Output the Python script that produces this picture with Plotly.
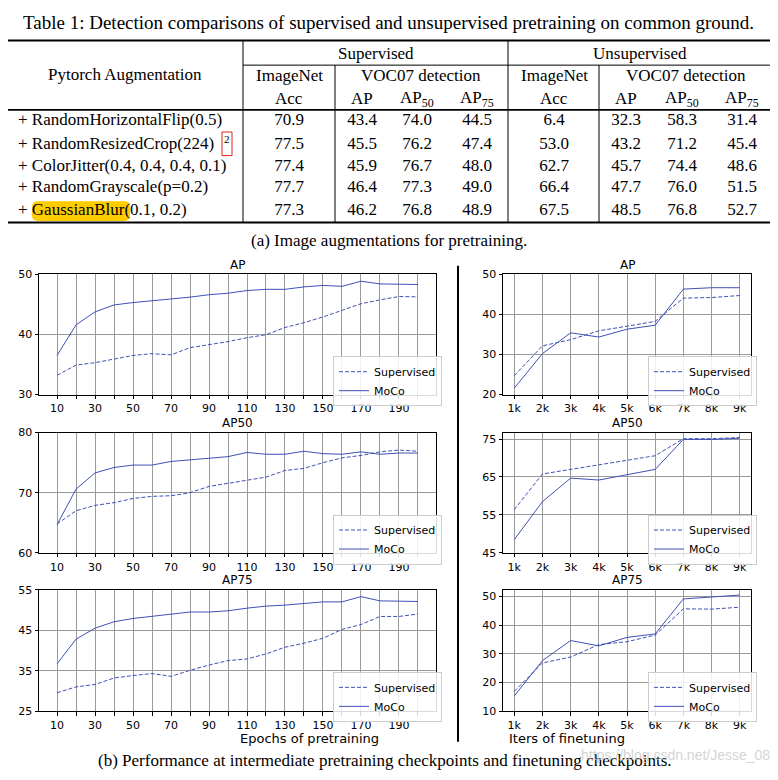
import plotly.graph_objects as go

# ---------------- data ----------------
epochs = [10, 20, 30, 40, 50, 60, 70, 80, 90, 100, 110, 120, 130, 140, 150, 160, 170, 180, 190, 200]
epoch_labels = ["10", "", "30", "", "50", "", "70", "", "90", "", "110", "", "130", "", "150", "", "170", "", "190", ""]
iters = ["1k", "2k", "3k", "4k", "5k", "6k", "7k", "8k", "9k"]

ep_ap_sup = [33.2, 34.9, 35.3, 35.9, 36.5, 36.8, 36.6, 37.8, 38.3, 38.8, 39.45, 39.95, 41.15, 41.95, 42.9, 44.0, 45.1, 45.75, 46.3, 46.25]
ep_ap_moco = [36.5, 41.6, 43.75, 44.9, 45.3, 45.65, 45.9, 46.2, 46.6, 46.85, 47.3, 47.5, 47.5, 47.9, 48.15, 48.0, 48.85, 48.4, 48.4, 48.3]
ep_ap50_sup = [64.8, 67.0, 67.9, 68.35, 69.05, 69.4, 69.5, 70.0, 71.05, 71.55, 72.05, 72.6, 73.7, 74.05, 75.0, 75.8, 76.2, 76.8, 77.1, 76.9]
ep_ap50_moco = [64.7, 70.6, 73.3, 74.2, 74.6, 74.6, 75.2, 75.5, 75.8, 76.0, 76.7, 76.4, 76.4, 76.9, 76.5, 76.4, 76.8, 76.4, 76.6, 76.6]
ep_ap75_sup = [29.55, 31.0, 31.6, 33.2, 33.8, 34.3, 33.6, 35.1, 36.4, 37.5, 37.9, 39.15, 40.8, 41.8, 43.0, 45.2, 46.4, 48.4, 48.4, 49.0]
ep_ap75_moco = [36.7, 42.8, 45.5, 47.1, 47.9, 48.45, 48.9, 49.5, 49.5, 49.8, 50.45, 50.95, 51.2, 51.6, 52.0, 52.0, 53.3, 52.25, 52.1, 52.1]

it_ap_sup = [24.7, 32.15, 33.7, 35.9, 37.05, 38.25, 44.05, 44.2, 44.7]
it_ap_moco = [21.6, 30.2, 35.4, 34.35, 36.3, 37.3, 46.3, 46.65, 46.65]
it_ap50_sup = [56.4, 65.8, 67.0, 68.2, 69.3, 70.6, 75.1, 75.1, 75.4]
it_ap50_moco = [48.5, 58.5, 64.7, 64.2, 65.6, 67.0, 74.9, 74.9, 75.2]
it_ap75_sup = [16.9, 26.8, 28.85, 33.2, 34.2, 36.5, 45.65, 45.55, 46.2]
it_ap75_moco = [15.3, 27.6, 34.6, 32.75, 35.7, 36.9, 49.1, 49.9, 50.45]

augmentations = ["+ RandomHorizontalFlip(0.5)", "+ RandomResizedCrop(224)",
                 "+ ColorJitter(0.4, 0.4, 0.4, 0.1)", "+ RandomGrayscale(p=0.2)",
                 "+ GaussianBlur(0.1, 0.2)"]
sup_acc = [70.9, 77.5, 77.4, 77.7, 77.3]
sup_ap = [43.4, 45.5, 45.9, 46.4, 46.2]
sup_ap50 = [74.0, 76.2, 76.7, 77.3, 76.8]
sup_ap75 = [44.5, 47.4, 48.0, 49.0, 48.9]
unsup_acc = [6.4, 53.0, 62.7, 66.4, 67.5]
unsup_ap = [32.3, 43.2, 45.7, 47.7, 48.5]
unsup_ap50 = [58.3, 71.2, 74.4, 76.0, 76.8]
unsup_ap75 = [31.4, 45.4, 48.6, 51.5, 52.7]

# ---------------- layout helpers ----------------
W, H = 778, 780
OFF = 8  # page body margin offset of the rendered figure
def px(x):
    return (x - OFF) / W
def py(y):
    return 1 - (y - OFF) / H

LINE = "#3f51b5"
GRID = "#9a9a9a"
SANS = "DejaVu Sans"
SERIF = "Liberation Serif"

fig = go.Figure()

charts = [
    (1, epochs, ep_ap_sup, ep_ap_moco, (39, 436), (272.7, 395), [30, 50], [30, 40, 50], "AP", 356, "ep"),
    (2, iters, it_ap_sup, it_ap_moco, (503, 751), (272.7, 395), [20, 50], [20, 30, 40, 50], "AP", 356, "it"),
    (3, epochs, ep_ap50_sup, ep_ap50_moco, (39, 436), (433.7, 556), [60, 80], [60, 70, 80], "AP50", 517, "ep"),
    (4, iters, it_ap50_sup, it_ap50_moco, (503, 751), (433.7, 556), [45, 76.7], [45, 55, 65, 75], "AP50", 517, "it"),
    (5, epochs, ep_ap75_sup, ep_ap75_moco, (39, 436), (593.5, 717), [25, 55], [25, 35, 45, 55], "AP75", 677, "ep"),
    (6, iters, it_ap75_sup, it_ap75_moco, (503, 751), (593.5, 717), [10, 52.3], [10, 20, 30, 40, 50], "AP75", 677, "it"),
]

annotations = []
layout_axes = {}
for idx, xs, sup, moco, (xl, xr), (yt, yb), yr, yt_vals, title, legtop, kind in charts:
    xn = "x" if idx == 1 else f"x{idx}"
    yn = "y" if idx == 1 else f"y{idx}"
    lg = "legend" if idx == 1 else f"legend{idx}"
    fig.add_trace(go.Scatter(x=xs, y=sup, mode="lines", name="Supervised",
                             line=dict(color=LINE, width=1, dash="4px,2px"),
                             xaxis=xn, yaxis=yn, legend=lg, hoverinfo="skip"))
    fig.add_trace(go.Scatter(x=xs, y=moco, mode="lines", name="MoCo",
                             line=dict(color=LINE, width=1),
                             xaxis=xn, yaxis=yn, legend=lg, hoverinfo="skip"))
    common = dict(showgrid=True, gridcolor=GRID, gridwidth=1, showline=True,
                  linecolor="black", linewidth=1, mirror=True, ticks="outside",
                  ticklen=3.5, tickcolor="black", tickwidth=1, zeroline=False,
                  tickfont=dict(family=SANS, size=11, color="black"))
    if kind == "ep":
        xa = dict(domain=[px(xl), px(xr)], range=[0.5, 209.5], tickmode="array",
                  tickvals=epochs, ticktext=epoch_labels, **common)
    else:
        xa = dict(domain=[px(xl), px(xr)], range=[-0.4, 8.4], type="category",
                  **common)
    xa["anchor"] = yn
    ya = dict(domain=[py(yb), py(yt)], range=yr, tickmode="array", tickvals=yt_vals,
              anchor=xn, **common)
    layout_axes["xaxis" if idx == 1 else f"xaxis{idx}"] = xa
    layout_axes["yaxis" if idx == 1 else f"yaxis{idx}"] = ya
    legx = 333 if kind == "ep" else 648
    layout_axes[lg] = dict(x=px(legx), y=py(legtop), xanchor="left", yanchor="top",
                           bgcolor="rgba(255,255,255,0.85)", bordercolor="#cccccc",
                           borderwidth=1, font=dict(family=SANS, size=11, color="black"),
                           itemwidth=30, tracegroupgap=0)
    annotations.append(dict(x=px((xl + xr) / 2), y=py(yt - 9.5), xref="paper", yref="paper",
                            text=title, showarrow=False, xanchor="center", yanchor="middle",
                            font=dict(family=SANS, size=12, color="black")))

annotations.append(dict(x=px(238), y=py(745), xref="paper", yref="paper",
                        text="Epochs of pretraining", showarrow=False, yanchor="middle",
                        font=dict(family=SANS, size=13, color="black")))
annotations.append(dict(x=px(627), y=py(745), xref="paper", yref="paper",
                        text="Iters of finetuning", showarrow=False, yanchor="middle",
                        font=dict(family=SANS, size=13, color="black")))
annotations.append(dict(x=px(385), y=py(767), xref="paper", yref="paper", yanchor="middle",
                        text="(b) Performance at intermediate pretraining checkpoints and finetuning checkpoints.",
                        showarrow=False, font=dict(family=SERIF, size=17, color="black")))
annotations.append(dict(x=px(772), y=py(762), xref="paper", yref="paper", xanchor="right",
                        yanchor="middle", text="https://blog.csdn.net/Jesse_08", showarrow=False,
                        font=dict(family="Liberation Sans", size=14, color="rgba(200,200,200,0.8)")))
annotations.append(dict(x=px(389), y=py(238), xref="paper", yref="paper", yanchor="middle",
                        text="(a) Image augmentations for pretraining.",
                        showarrow=False, font=dict(family=SERIF, size=17, color="black")))

# ---------------- table (axis 7 in screen-pixel units) ----------------
layout_axes["xaxis7"] = dict(domain=[0, 1], range=[OFF, W + OFF], visible=False, anchor="y7", fixedrange=True)
layout_axes["yaxis7"] = dict(domain=[py(228), 1], range=[228, OFF], visible=False, anchor="x7", fixedrange=True)

row_y = [117, 141, 163, 185, 208]
col_x = [289, 362, 417, 477, 554, 626, 682, 742]
cols = [sup_acc, sup_ap, sup_ap50, sup_ap75, unsup_acc, unsup_ap, unsup_ap50, unsup_ap75]
tx, ty, tt = [], [], []
for cx, col in zip(col_x, cols):
    for ry, v in zip(row_y, col):
        tx.append(cx); ty.append(ry); tt.append(f"{v:.1f}")
fig.add_trace(go.Scatter(x=tx, y=ty, text=tt, mode="text", textposition="middle center",
                         textfont=dict(family=SERIF, size=17, color="black"),
                         xaxis="x7", yaxis="y7", showlegend=False, hoverinfo="skip"))
fig.add_trace(go.Scatter(x=[18] * len(augmentations), y=row_y, text=augmentations, mode="text",
                         textposition="middle right",
                         textfont=dict(family=SERIF, size=17, color="black"),
                         xaxis="x7", yaxis="y7", showlegend=False, hoverinfo="skip"))

def tann(x, y, text, size=17, xanchor="center", family=SERIF):
    annotations.append(dict(x=x, y=y, xref="x7", yref="y7", text=text, showarrow=False,
                            xanchor=xanchor, yanchor="middle",
                            font=dict(family=family, size=size, color="black")))

tann(388, 17, "Table 1: Detection comparisons of supervised and unsupervised pretraining on common ground.", size=19)
tann(376, 48, "Supervised")
tann(640, 48, "Unsupervised")
tann(125, 70, "Pytorch Augmentation")
tann(289, 71, "ImageNet")
tann(421, 71, "VOC07 detection")
tann(554, 71, "ImageNet")
tann(686, 71, "VOC07 detection")
for cx, lab in zip(col_x, ["Acc", "AP", "AP<sub>50</sub>", "AP<sub>75</sub>",
                           "Acc", "AP", "AP<sub>50</sub>", "AP<sub>75</sub>"]):
    tann(cx, 94, lab)
tann(227, 135, "2", size=11)

shapes = []
def hline(y, x0, x1, w):
    shapes.append(dict(type="line", xref="x7", yref="y7", x0=x0, x1=x1, y0=y, y1=y,
                       line=dict(color="black", width=w)))
def vline(x, y0, y1, w=1):
    shapes.append(dict(type="line", xref="x7", yref="y7", x0=x, x1=x, y0=y0, y1=y1,
                       line=dict(color="black", width=w)))
hline(35, 8, 772, 2)
hline(60, 243, 772, 1)
hline(105.5, 8, 772, 1.6)
hline(220, 8, 772, 2)
vline(243, 35, 220)
vline(335, 60, 220)
vline(508, 35, 220)
vline(599, 60, 220)
x0, x1, y0, y1, r = 32, 130, 198.5, 218.5, 6
path = (f"M {x0+r},{y0} L {x1-r},{y0} Q {x1},{y0} {x1},{y0+r} L {x1},{y1-r} Q {x1},{y1} {x1-r},{y1} "
        f"L {x0+r},{y1} Q {x0},{y1} {x0},{y1-r} L {x0},{y0+r} Q {x0},{y0} {x0+r},{y0} Z")
shapes.append(dict(type="path", xref="x7", yref="y7", path=path, fillcolor="#ffcc00",
                   line=dict(width=0), layer="below"))
shapes.append(dict(type="rect", xref="x7", yref="y7", x0=222, x1=232, y0=128, y1=152,
                   line=dict(color="#e02020", width=1), fillcolor="rgba(0,0,0,0)"))
shapes.append(dict(type="line", xref="paper", yref="paper", x0=px(458), x1=px(458),
                   y0=py(264), y1=py(748), line=dict(color="black", width=2)))

fig.update_layout(width=W, height=H, margin=dict(l=0, r=0, t=0, b=0),
                  paper_bgcolor="white", plot_bgcolor="white",
                  annotations=annotations, shapes=shapes, **layout_axes)

fig.write_html("out.html")
